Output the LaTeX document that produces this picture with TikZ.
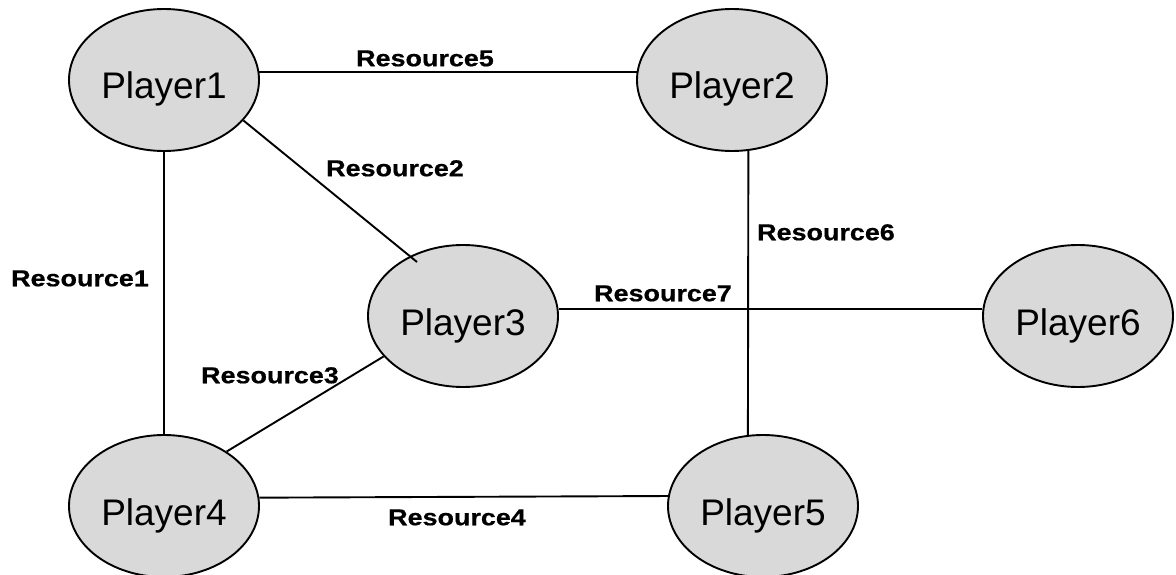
\documentclass[tikz,border=0pt]{standalone}
\usepackage{fontspec}
\setmainfont{Liberation Sans}
\newfontfamily\resfont[FakeStretch=1.17,FakeBold=0.6]{Liberation Sans Bold}
\usetikzlibrary{shapes.geometric,calc}
\definecolor{nodefill}{RGB}{217,217,217}
\tikzset{
  player/.style={ellipse, draw=black, line width=1.9pt, fill=nodefill,
    minimum width=190pt, minimum height=142pt, inner sep=0pt,
    font=\fontsize{37}{40}\selectfont, text height=38pt, text depth=0pt},
  reslabel/.style={inner sep=0pt, font=\resfont\fontsize{23}{26}\selectfont,
    text height=16.5pt, text depth=0pt},
  link/.style={draw=black, line width=1.9pt}
}
\begin{document}
\begin{tikzpicture}[x=1pt,y=-1pt]
\useasboundingbox (0,0) rectangle (1176,575);
\coordinate (p3c) at (463,316);
\node[player] (p1) at (164,80) {Player1};
\node[player] (p2) at (732,80) {Player2};
\node[player] (p3) at (463,316) {Player3};
\node[player] (p4) at (164,506) {Player4};
\node[player] (p5) at (763,506) {Player5};
\node[player] (p6) at (1078,316) {Player6};
\draw[link] (p1.5) -- (p2.175);
\draw[link] (p1.south) -- (p4.north);
\draw[link] (p2.283) -- (p5.102);
\draw[link] (p3.4) -- (p6.176);
\draw[link] (p4.5.5) -- (p5.174.5);
\draw[link] (p1.333) -- ([shift={(-46,-54)}]p3c);
\draw[link] (p4.41) -- (p3.207);
\node[reslabel] (r5) at (425,58) {Resource5};
\node[reslabel] (r2) at (395,168) {Resource2};
\node[reslabel] (r6) at (826,232) {Resource6};
\node[reslabel] (r1) at (80,278) {Resource1};
\node[reslabel] (r7) at (663,293) {Resource7};
\node[reslabel] (r3) at (270,375) {Resource3};
\node[reslabel] (r4) at (457,517) {Resource4};
\end{tikzpicture}
\end{document}
